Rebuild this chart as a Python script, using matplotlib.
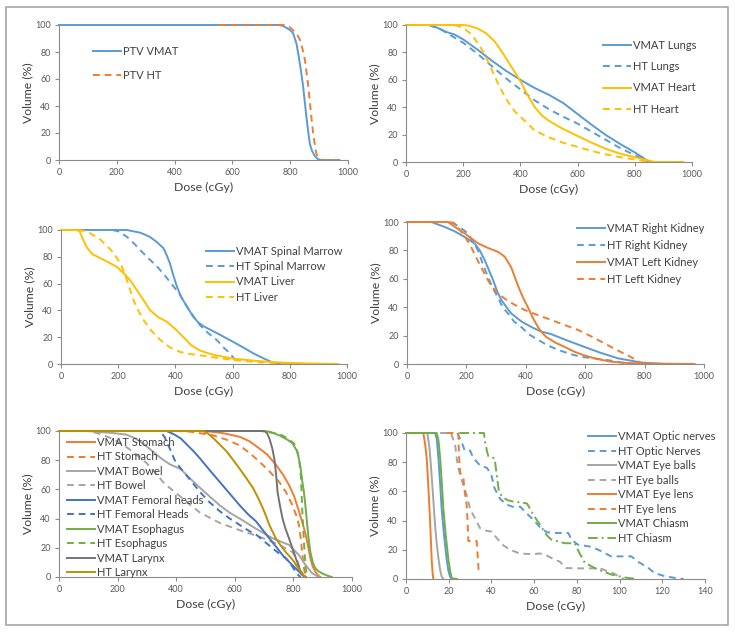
import matplotlib
matplotlib.use("Agg")
import matplotlib.pyplot as plt
from matplotlib.patches import Rectangle

plt.rcParams['font.family'] = ['Lato', 'DejaVu Sans']

# colours (Excel 2013 palette)
BLUE = '#5B9BD5'
ORANGE = '#ED7D31'
GRAY = '#A5A5A5'
GOLD = '#FFC000'
DBLUE = '#4472C4'
GREEN = '#70AD47'
DGRAY = '#737373'
DGOLD = '#BF9000'

# ---- panel 1: PTV ----
ptv_vmat_d = [0, 760, 776, 799, 810, 822, 830, 838, 845, 851, 857, 863, 868, 875, 885, 895, 905, 970]
ptv_vmat_v = [100, 100, 99.3, 96.3, 94, 86, 76, 65, 54, 42, 30, 20, 12, 7, 3, 0.8, 0, 0]
ptv_ht_d = [555, 780, 795, 811, 825, 834, 843, 851, 857, 863, 869, 874, 880, 886, 891, 897, 905, 912, 975]
ptv_ht_v = [100, 100, 99, 96, 92.5, 89, 82, 74, 64, 54, 41, 30, 19, 10, 4.5, 1.2, 0.2, 0, 0]

# ---- panel 2: lungs / heart ----
vmat_lungs_d = [0, 80, 110, 140, 170, 200, 250, 300, 350, 400, 450, 500, 550, 600, 650, 700, 750, 800, 830, 845, 860, 870]
vmat_lungs_v = [100, 100, 98, 95, 93, 89.5, 82, 74, 66.5, 60, 54, 49, 43, 35, 27, 19.5, 13, 7, 3, 0.7, 0, 0]
ht_lungs_d = [0, 80, 120, 160, 200, 250, 300, 350, 400, 450, 500, 550, 600, 650, 700, 750, 800, 830, 850, 860]
ht_lungs_v = [100, 100, 97, 92, 87, 79, 70, 61, 53, 45, 38.5, 33, 28, 22, 16, 10, 5, 2, 0.3, 0]
vmat_heart_d = [0, 200, 220, 250, 280, 310, 340, 370, 400, 425, 450, 475, 500, 550, 600, 650, 700, 750, 800, 850, 870, 970]
vmat_heart_v = [100, 100, 99.5, 97.5, 94, 88, 79, 69, 59, 49, 40, 34, 30, 24, 19, 14, 9.5, 6, 3.5, 1, 0, 0]
ht_heart_d = [170, 200, 230, 260, 290, 320, 350, 380, 410, 450, 500, 550, 600, 650, 700, 750, 800, 840, 860]
ht_heart_v = [100, 98, 93, 84, 72, 58, 46, 37, 31, 23, 18, 14, 11, 8, 5.5, 3.5, 1.8, 0.5, 0]

# ---- panel 3: spinal marrow / liver ----
vmat_sm_d = [0, 230, 277, 310, 335, 358, 370, 381, 393, 405, 420, 440, 460, 480, 500, 550, 602, 640, 672, 710, 742, 760, 800, 850]
vmat_sm_v = [100, 100, 98, 95, 91, 86.5, 81, 75, 66, 58, 50, 43, 36, 31, 28, 22.5, 16.5, 12, 8, 4, 1, 0.5, 0.3, 0]
ht_sm_d = [180, 200, 230, 255, 277, 305, 335, 365, 393, 415, 440, 465, 486, 515, 544, 570, 591, 605, 620]
ht_sm_v = [100, 99, 95, 90, 85, 79, 73, 65.5, 58, 52, 43, 35, 29, 23, 18, 12, 8, 4, 0]
vmat_liver_d = [0, 55, 65, 75, 90, 110, 137, 165, 195, 220, 242, 275, 312, 340, 370, 400, 428, 455, 486, 530, 602, 650, 700, 750, 800, 850, 900, 970]
vmat_liver_v = [100, 100, 99, 94, 87, 82, 79, 76, 72.5, 67.5, 62.5, 52, 40, 35, 31.5, 26, 20, 14, 10, 7, 4, 3, 2, 1.3, 0.8, 0.5, 0.2, 0]
ht_liver_d = [60, 91, 137, 184, 210, 230, 253, 270, 288, 315, 347, 380, 416, 450, 486, 550, 602, 650, 719, 780, 820]
ht_liver_v = [100, 99, 93, 83, 74, 63, 48, 40, 33, 25, 18, 12.5, 9, 7.5, 6.5, 4.5, 3, 2, 1, 0.3, 0]

# ---- panel 4: kidneys ----
vmat_rk_d = [0, 82, 127, 160, 194, 228, 245, 262, 276, 290, 304, 318, 335, 351, 385, 419, 450, 486, 540, 598, 650, 710, 750, 789, 830, 870]
vmat_rk_v = [100, 100, 96.5, 93.5, 89.5, 84.8, 80, 73, 66, 59, 51, 45, 40, 35.6, 30, 26, 23, 21, 16.5, 12, 8, 4, 2.5, 1, 0.5, 0]
ht_rk_d = [150, 180, 205, 222, 239, 256, 273, 290, 306, 322, 340, 360, 385, 410, 441, 475, 508, 550, 587, 630, 665, 700, 721, 760, 780]
ht_rk_v = [100, 96, 92, 86, 80, 70, 61, 53, 47, 40, 35.6, 30, 26, 21, 17, 13, 10, 7, 5, 4, 3, 2, 1, 0.3, 0]
vmat_lk_d = [0, 138, 165, 194, 239, 275, 306, 329, 351, 374, 390, 407, 425, 441, 455, 469, 500, 531, 565, 598, 640, 688, 755, 800, 850, 968]
vmat_lk_v = [100, 100, 96, 92, 85, 81.5, 79, 75.6, 68, 55, 47, 40, 32, 26, 22, 19, 15, 12, 8.5, 6, 3.5, 1.6, 0.5, 0.3, 0.2, 0]
ht_lk_d = [140, 160, 183, 200, 217, 233, 250, 267, 284, 305, 329, 360, 396, 440, 486, 530, 576, 620, 665, 705, 744, 770, 789, 800]
ht_lk_v = [100, 99, 93, 88, 82, 75, 68, 61, 55, 50, 46, 42, 38, 34.5, 31, 27.5, 24, 19.5, 14.5, 10, 6, 3, 0.5, 0]

# ---- panel 5: abdominal / neck organs ----
vmat_stom_d = [0, 480, 520, 560, 617, 650, 684, 710, 740, 765, 785, 803, 819, 831, 842, 850, 858, 866, 875, 885, 892]
vmat_stom_v = [100, 100, 99.5, 98.5, 96, 93, 88, 84, 77, 70, 63, 55, 45, 37, 29, 21, 13, 7, 3.6, 1, 0]
ht_stom_d = [0, 400, 450, 527, 580, 617, 650, 684, 720, 752, 775, 797, 810, 819, 826, 830, 833, 836, 842, 845]
ht_stom_v = [100, 100, 99.5, 97, 93.5, 90, 85, 79, 72, 65, 58, 49, 42, 35.6, 25, 17, 11, 6, 1, 0]
vmat_bowel_d = [0, 94, 185, 230, 260, 290, 320, 350, 380, 415, 450, 482, 515, 549, 583, 617, 673, 729, 785, 819, 842, 864, 887]
vmat_bowel_v = [100, 100, 98.6, 97.5, 95, 91, 86, 81, 77, 74, 67, 61, 55, 49, 44, 40, 33, 26.5, 22, 15, 8, 2.5, 0]
ht_bowel_d = [0, 100, 140, 190, 230, 270, 299, 330, 360, 390, 415, 450, 482, 549, 617, 684, 752, 797, 810, 819, 830, 836]
ht_bowel_v = [100, 100, 98, 94, 89, 83, 78, 71, 64, 59, 55, 49, 44, 37, 32, 27.6, 22, 17, 13, 8, 3, 0]
vmat_fem_d = [0, 367, 390, 415, 435, 460, 482, 515, 549, 583, 617, 645, 673, 700, 718, 740, 763, 780, 797, 815, 830, 842]
vmat_fem_v = [100, 100, 98, 95, 91, 86, 81, 73, 65, 57, 49, 43, 38, 31, 26.5, 21, 15, 11.5, 8, 4.5, 1.4, 0]
ht_fem_d = [0, 344, 360, 378, 395, 415, 450, 482, 515, 549, 583, 617, 645, 673, 700, 729, 752, 774, 790, 808, 818, 825]
ht_fem_v = [100, 100, 96, 88, 80, 74.4, 66, 58, 51, 45, 40, 35.6, 32, 29, 24.5, 19.6, 16, 13, 9, 3.6, 1, 0]
vmat_eso_d = [0, 696, 720, 752, 780, 797, 813, 820, 825, 830, 836, 842, 847, 852, 858, 866, 875, 885, 898, 915, 931]
vmat_eso_v = [100, 100, 99.5, 97, 94, 91.5, 86, 80, 74, 66, 58, 47, 36, 26, 17, 10, 6, 4, 2.5, 1, 0]
ht_eso_d = [0, 690, 720, 752, 780, 802, 812, 819, 825, 828, 830, 833, 836, 839, 842, 847]
ht_eso_v = [100, 100, 99, 98, 95, 91.5, 87, 81, 70, 58, 47, 35, 24, 14, 6, 0]
vmat_lar_d = [0, 701, 710, 718, 728, 735, 741, 746, 754, 763, 773, 785, 797, 808, 817, 825, 834, 842]
vmat_lar_v = [100, 100, 98.5, 95, 88, 81, 70, 58, 49, 40, 33, 26.5, 19.5, 13, 8, 3.6, 1, 0]
ht_lar_d = [0, 493, 510, 527, 550, 572, 595, 617, 640, 662, 680, 696, 708, 718, 729, 740, 757, 774, 790, 802, 815, 825, 834, 842]
ht_lar_v = [100, 100, 98, 95, 90.5, 86, 80, 74, 67.5, 61, 54, 47, 41, 35.6, 31, 26.5, 21.5, 17, 13.5, 10.5, 6.5, 3.6, 1.2, 0]

# ---- panel 6: head organs ----
vmat_optic_d = [0, 13.6, 14.4, 15.2, 16, 16.7, 17.8, 19, 19.8, 20.6, 21.4]
vmat_optic_v = [100, 100, 96, 82.6, 65, 48, 30, 14, 6, 1.6, 0]
ht_optic_d = [24, 25, 26, 27.5, 30, 31.5, 34.5, 38, 40, 41.5, 44, 47, 50, 53.5, 56.5, 60, 63, 66, 70, 76, 77.5, 80.5, 87, 91.5, 96, 105.5, 108.5, 113.5, 116.5, 121, 126, 130]
ht_optic_v = [100, 97, 94, 88, 88, 83, 78, 76, 71, 62, 55, 51, 49.5, 49.5, 45, 40, 35, 32, 31.5, 31.5, 27, 23.5, 22, 19, 15.5, 15.5, 12, 7.5, 4, 2, 0.7, 0]
vmat_eyeb_d = [0, 10, 11, 12, 12.8, 13.6, 14.4, 15.2, 16, 16.7, 17.5]
vmat_eyeb_v = [100, 100, 90, 71, 54, 37, 24, 14, 6, 1.6, 0]
ht_eyeb_d = [16, 21, 21.4, 23, 23.75, 24.5, 26, 28.4, 30, 32.3, 34.7, 37.8, 40.2, 42.5, 45.6, 48.75, 53.4, 59.7, 62.7, 66, 70, 72, 75, 80, 91, 94, 97, 100, 102]
ht_eyeb_v = [100, 100, 98.6, 92, 82.6, 76, 68, 57.5, 48, 41.5, 34.7, 33, 32.4, 28, 23, 20, 17.4, 17, 17.5, 16, 13, 11.9, 7.5, 7.3, 7.3, 5.5, 4, 1.5, 0]
vmat_lens_d = [0, 8.1, 8.9, 9.7, 10.4, 11, 11.5, 12, 12.4, 12.8]
vmat_lens_v = [100, 100, 93, 82.6, 65, 48, 32, 14, 5, 0]
ht_lens_d = [19, 24.5, 24.8, 25.3, 26, 26.9, 27.3, 27.7, 28.4, 28.8, 29.2, 33.1, 33.6, 34.1, 34.2]
ht_lens_v = [100, 100, 85, 73.5, 70, 69, 62, 57.5, 50.7, 40, 26, 26, 15, 4, 3]
vmat_chiasm_d = [0, 14.4, 15.2, 16, 16.8, 17.5, 18.6, 19.8, 20.6, 21.4, 23.8]
vmat_chiasm_v = [100, 100, 95, 82.6, 65, 48, 30, 14, 6, 0.5, 0]
ht_chiasm_d = [25, 36.5, 37, 38, 38.6, 41.5, 42.5, 43.5, 45, 47.5, 50.3, 53.4, 56.6, 58, 59.7, 62.8, 65.9, 68, 74.4, 79, 81.25, 83.75, 90, 96.25, 102.5, 108]
ht_chiasm_v = [100, 100, 94, 87, 84, 82.6, 71, 60, 56.4, 54, 53, 52.5, 51.8, 48.4, 43.8, 37, 30, 27, 24.5, 24.5, 17.7, 11, 6.4, 3, 1, 0]

W, H = 735, 632
fig = plt.figure(figsize=(W / 100, H / 100), dpi=100)
fig.patches.append(Rectangle((6 / W, 1 - 625 / H), 722 / W, 618 / H, transform=fig.transFigure,
                             fill=False, edgecolor='#A6A6A6', linewidth=1.2))

SOLID = '-'
DASH = (0, (3.5, 2.5))
DASHDOT = (0, (5, 2, 1, 2))


def make_axes(x0, y0, x1, y1, xmax, xstep):
    ax = fig.add_axes([x0 / W, 1 - y1 / H, (x1 - x0) / W, (y1 - y0) / H])
    ax.set_xlim(0, xmax)
    ax.set_ylim(0, 100)
    ax.set_xticks(range(0, xmax + 1, xstep))
    ax.set_yticks(range(0, 101, 20))
    for s in ('top', 'right'):
        ax.spines[s].set_visible(False)
    for s in ('left', 'bottom'):
        ax.spines[s].set_color('#8C8C8C')
        ax.spines[s].set_linewidth(0.8)
    ax.tick_params(length=3, width=0.8, color='#8C8C8C', labelsize=6.5, labelcolor='#595959', pad=3)
    ax.set_xlabel('Dose (cGy)', fontsize=8.8, color='#404040', labelpad=3)
    ax.set_ylabel('Volume (%)', fontsize=8.8, color='#404040', labelpad=1.5)
    return ax


def draw(ax, series):
    for d, v, color, ls, label in series:
        ax.plot(d, v, color=color, linestyle=ls, linewidth=1.4, label=label, clip_on=False)


def add_legend(ax, x, y, spacing, hlen=2.5):
    ax.legend(loc='upper left', bbox_to_anchor=(x / W, 1 - y / H), bbox_transform=fig.transFigure,
              frameon=False, fontsize=8, labelcolor='#404040', borderpad=0, borderaxespad=0,
              handlelength=hlen, handletextpad=0.2, labelspacing=spacing)


ax1 = make_axes(59, 25, 348, 160, 1000, 200)
draw(ax1, [(ptv_vmat_d, ptv_vmat_v, BLUE, SOLID, 'PTV VMAT'),
           (ptv_ht_d, ptv_ht_v, ORANGE, DASH, 'PTV HT')])
add_legend(ax1, 93, 46, 1.2)

ax2 = make_axes(406, 25, 692, 162, 1000, 200)
draw(ax2, [(vmat_lungs_d, vmat_lungs_v, BLUE, SOLID, 'VMAT Lungs'),
           (ht_lungs_d, ht_lungs_v, BLUE, DASH, 'HT Lungs'),
           (vmat_heart_d, vmat_heart_v, GOLD, SOLID, 'VMAT Heart'),
           (ht_heart_d, ht_heart_v, GOLD, DASH, 'HT Heart')])
add_legend(ax2, 603, 40, 0.92)

ax3 = make_axes(61, 230, 347, 364, 1000, 200)
draw(ax3, [(vmat_sm_d, vmat_sm_v, BLUE, SOLID, 'VMAT Spinal Marrow'),
           (ht_sm_d, ht_sm_v, BLUE, DASH, 'HT Spinal Marrow'),
           (vmat_liver_d, vmat_liver_v, GOLD, SOLID, 'VMAT Liver'),
           (ht_liver_d, ht_liver_v, GOLD, DASH, 'HT Liver')])
add_legend(ax3, 206, 246, 0.38)

ax4 = make_axes(407, 222, 704, 364, 1000, 200)
draw(ax4, [(vmat_rk_d, vmat_rk_v, BLUE, SOLID, 'VMAT Right Kidney'),
           (ht_rk_d, ht_rk_v, BLUE, DASH, 'HT Right Kidney'),
           (vmat_lk_d, vmat_lk_v, ORANGE, SOLID, 'VMAT Left Kidney'),
           (ht_lk_d, ht_lk_v, ORANGE, DASH, 'HT Left Kidney')])
add_legend(ax4, 577, 223, 0.53)

ax5 = make_axes(59, 431, 352, 577, 1000, 200)
draw(ax5, [(vmat_stom_d, vmat_stom_v, ORANGE, SOLID, 'VMAT Stomach'),
           (ht_stom_d, ht_stom_v, ORANGE, DASH, 'HT Stomach'),
           (vmat_bowel_d, vmat_bowel_v, GRAY, SOLID, 'VMAT Bowel'),
           (ht_bowel_d, ht_bowel_v, GRAY, DASH, 'HT Bowel'),
           (vmat_fem_d, vmat_fem_v, DBLUE, SOLID, 'VMAT Femoral heads'),
           (ht_fem_d, ht_fem_v, DBLUE, DASH, 'HT Femoral Heads'),
           (vmat_eso_d, vmat_eso_v, GREEN, SOLID, 'VMAT Esophagus'),
           (ht_eso_d, ht_eso_v, GREEN, DASH, 'HT Esophagus'),
           (vmat_lar_d, vmat_lar_v, DGRAY, SOLID, 'VMAT Larynx'),
           (ht_lar_d, ht_lar_v, DGOLD, SOLID, 'HT Larynx')])
add_legend(ax5, 67, 437, 0.31)

ax6 = make_axes(406, 433, 705, 579, 140, 20)
draw(ax6, [(vmat_optic_d, vmat_optic_v, BLUE, SOLID, 'VMAT Optic nerves'),
           (ht_optic_d, ht_optic_v, BLUE, DASH, 'HT Optic Nerves'),
           (vmat_eyeb_d, vmat_eyeb_v, GRAY, SOLID, 'VMAT Eye balls'),
           (ht_eyeb_d, ht_eyeb_v, GRAY, DASH, 'HT Eye balls'),
           (vmat_lens_d, vmat_lens_v, ORANGE, SOLID, 'VMAT Eye lens'),
           (ht_lens_d, ht_lens_v, ORANGE, DASH, 'HT Eye lens'),
           (vmat_chiasm_d, vmat_chiasm_v, GREEN, SOLID, 'VMAT Chiasm'),
           (ht_chiasm_d, ht_chiasm_v, GREEN, DASHDOT, 'HT Chiasm')])
add_legend(ax6, 588, 431, 0.32)

fig.savefig('out.png', dpi=100)
